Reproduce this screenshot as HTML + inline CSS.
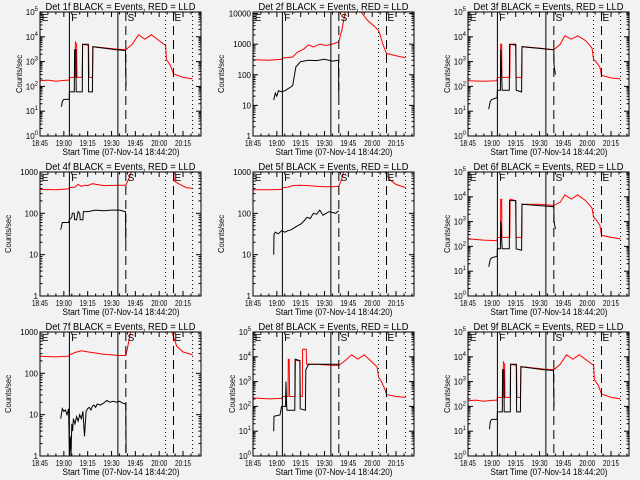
<!DOCTYPE html>
<html><head><meta charset="utf-8"><style>
html,body{margin:0;padding:0;background:#f2f2f2;}
svg{display:block;font-family:"Liberation Sans",sans-serif;}
</style></head><body>
<svg id="chart" width="640" height="480" viewBox="0 0 640 480" xmlns="http://www.w3.org/2000/svg"></svg>
<script>
// time axis: minutes after 18:45
const xTickLabels=["18:45","19:00","19:15","19:30","19:45","20:00","20:15"];
const xTickMinutes=[0,15,30,45,60,75,90];
const markerTimes=[18.5,49,54,79,84,96];
const markerStyles=["solid","solid","dash","dot","dash","dot"];
const eventLetters=["E","F","S","E"];
const eventTimes=[0.5,19,54.5,84];
const detNames=["1f","2f","3f","4f","5f","6f","7f","8f","9f"];

const p1RedT=[0,5,10,15,18.3,18.5,22,22.3,23,23.3,26.5,26.8,30.5,30.8,33,33.3,40,48,54,58,62,66,70,75,79,79.5,82,84,90,96];
const p1RedV=[170,180,160,175,180,230,230,6000,5000,230,230,5000,4500,230,230,4000,3600,3200,3000,5000,12000,8000,12000,7000,4500,1200,700,320,230,200];
const p1BlkT=[13.5,14,15,16,18.4,18.5,21.6,21.8,22.6,22.8,26.6,26.8,30.4,30.6,33,33.3,40,48,53.8,54,54.2];
const p1BlkV=[15,25,30,30,30,60,60,3000,3000,60,60,5000,5000,60,60,4000,3500,3000,2800,300,100];

const p2RedT=[0,10,18,18.5,25,28,32,35,38,42,46,50,54,56,58,68,72,76,79,80,82,84,90,96];
const p2RedV=[310,300,320,350,380,550,700,950,800,1000,900,1000,1200,3000,11200,11200,6000,4000,2800,2000,900,500,420,360];
const p2BlkT=[13,14,15,16,18,20,22,24,25,27,30,35,40,45,50,53.8,54];
const p2BlkV=[15,25,20,30,28,30,35,40,45,180,270,300,290,320,280,300,20];

const p3RedT=[0,10,18.3,18.5,20.5,20.6,21.2,21.3,26.3,26.5,30,30.2,33.8,34,45,54,58,61,65,69,74,78,79,80.5,83,84,90,96];
const p3RedV=[170,160,170,230,230,5000,5000,230,230,5000,4500,230,230,4000,3500,3000,5000,11000,8000,11000,7000,3500,1200,1000,600,280,220,200];
const p3BlkT=[13,14,15,18.3,18.5,20.4,20.6,21.5,21.7,26,26.2,30.1,30.3,33.7,34,54,54.2,55];
const p3BlkV=[12,25,30,35,70,70,3000,70,70,70,5000,5000,70,60,4000,3000,700,300];

const p4RedT=[0,10,18,18.5,22,24,26,28,30,33,40,50,54,56,57.5,58,83,84,84.5,88,92,96];
const p4RedV=[380,370,390,420,430,500,450,480,470,520,470,480,480,700,1000,5000,5000,1200,600,500,420,400];
const p4BlkT=[13,14,18,18.5,20,20.3,21.5,21.8,23,24,25,25.3,27,27.3,30,35,40,45,50,53.8,54];
const p4BlkV=[40,60,60,70,80,100,100,70,70,110,100,70,70,110,110,120,115,120,120,110,20];

const p5RedT=[0,10,18,18.5,22,25,30,35,40,45,50,54,56,57,60,82,83,86,90,96];
const p5RedV=[370,370,380,420,430,470,480,470,450,440,440,450,700,1000,5000,5000,1000,650,500,420];
const p5BlkT=[13,13.2,14,16,18,20,22,24,26,28,30,32,34,36,38,40,42,44,46,48,50,52,54];
const p5BlkV=[10,30,35,32,38,35,38,40,45,50,55,65,80,75,100,95,120,90,100,110,105,100,115];

const p6RedT=[0,10,18.3,18.5,20.5,20.6,21.2,21.3,26.3,26.5,30,30.2,33.8,34,45,54,58,61,65,69,74,78,79,80.5,83,84,90,96];
const p6RedV=[200,180,170,230,230,8000,8000,230,230,8000,7000,230,230,5000,5000,4500,6000,12000,8000,12000,7000,3500,1500,1200,700,280,230,200];
const p6BlkT=[13,14,15,18.3,18.5,20.4,20.6,21.5,21.7,26,26.2,30.1,30.3,33.7,34,54,54.2,55];
const p6BlkV=[15,30,35,40,80,80,1000,80,80,80,7000,7000,80,70,5000,4000,1000,500];

const p7RedT=[0,10,18,18.5,22,26,30,35,40,50,54,55,57,58,82,83,86,90,96];
const p7RedV=[260,250,260,280,320,350,330,310,290,270,270,400,1000,5000,5000,1000,450,330,280];
const p7BlkT=[13,14,15,16,17,18,18.5,19,19.5,20,20.5,21,22,23,24,25,26,27,28,29,30,31,32,33,34,35,36,38,40,42,44,46,48,50,52,54,54.2];
const p7BlkV=[8,14,12,13,10,14,1,3,1,6,4,8,6,9,7,10,8,12,3,12,14,15,13,16,17,15,18,17,19,22,20,21,20,21,19,18,1.2];

const p8RedT=[0,10,18,18.5,22,22.2,22.8,23,26.5,26.7,29.5,29.7,31,31.2,33.5,33.7,40,50,54,58,62,66,70,75,78,79,80.5,83,84,90,96];
const p8RedV=[220,200,210,250,250,8000,8000,250,250,7000,7000,250,250,20000,20000,5000,5000,4500,4500,7000,12000,8000,12000,6000,4000,1500,1100,500,300,250,230];
const p8BlkT=[13,13.2,17,18,18.4,18.5,20.5,20.7,21.2,21.4,26.3,26.5,29.5,29.7,33,33.2,35,54];
const p8BlkV=[10,40,45,100,100,100,100,1000,100,70,70,8000,7000,80,70,3000,5000,5000];

const p9RedT=[0,5,10,15,18.3,18.5,22,22.3,23,23.3,26.5,26.8,30.5,30.8,33,33.3,40,48,54,58,62,66,70,75,79,79.5,82,84,90,96];
const p9RedV=[170,180,160,175,180,230,230,6000,5000,230,230,5000,4500,230,230,4000,3600,3200,3000,5000,12000,8000,12000,7000,4500,1200,700,320,230,200];
const p9BlkT=[13.5,14,15,16,18.4,18.5,21.6,21.8,22.6,22.8,26.6,26.8,30.4,30.6,33,33.3,40,48,53.8,54,54.2];
const p9BlkV=[12,25,30,30,30,60,60,3000,3000,60,60,5000,5000,60,60,4000,3500,3000,2800,300,100];

const redTimes=[p1RedT,p2RedT,p3RedT,p4RedT,p5RedT,p6RedT,p7RedT,p8RedT,p9RedT];
const redValues=[p1RedV,p2RedV,p3RedV,p4RedV,p5RedV,p6RedV,p7RedV,p8RedV,p9RedV];
const blackTimes=[p1BlkT,p2BlkT,p3BlkT,p4BlkT,p5BlkT,p6BlkT,p7BlkT,p8BlkT,p9BlkT];
const blackValues=[p1BlkV,p2BlkV,p3BlkV,p4BlkV,p5BlkV,p6BlkV,p7BlkV,p8BlkV,p9BlkV];
const yMaxLog=[5,4.05,5,3,3,5,3,5,5];
const yPowerLabels=[true,false,true,false,false,true,false,true,true];

const NS="http://www.w3.org/2000/svg";
const svg=document.getElementById("chart");
const lefts=[40,253,468], tops=[12,172,332], W=161, H=124, TMAX=101.3;
function mk(tag,attrs,parent){const e=document.createElementNS(NS,tag);for(const k in attrs)e.setAttribute(k,attrs[k]);(parent||svg).appendChild(e);return e;}

for(let p=0;p<9;p++){
  const L=lefts[p%3], T=tops[Math.floor(p/3)], ymax=yMaxLog[p];
  const xs=t=>L+t/TMAX*W;
  const ys=v=>T+H-Math.log10(v)/ymax*H;
  const g=mk("g",{});
  
  
  const cp=mk("clipPath",{id:"cp"+p},g);
  mk("rect",{x:L,y:T,width:W,height:H},cp);
  const drawLine=(ts,vs,color,name)=>{
    let d="";
    for(let i=0;i<ts.length;i++)d+=(i?"L":"M")+xs(ts[i]).toFixed(1)+","+ys(vs[i]).toFixed(1);
    const pth=mk("path",{d:d,fill:"none",stroke:color,"stroke-width":1,"clip-path":"url(#cp"+p+")"},g);
    
    
  };
  drawLine(redTimes[p],redValues[p],"#ff0000","lld-red-line");
  drawLine(blackTimes[p],blackValues[p],"#000000","events-black-line");
  for(let i=0;i<markerTimes.length;i++){
    const x=xs(markerTimes[i]);
    const st=markerStyles[i];
    const ln=mk("line",{x1:x,x2:x,y1:T,y2:T+H,stroke:"#000","stroke-width":1,"stroke-dasharray":st==="dash"?"9,5":(st==="dot"?"1,3":"none")},g);
    
    
  }
  for(let i=0;i<eventLetters.length;i++){
    const tx=mk("text",{x:xs(eventTimes[i])+1,y:T+9,"font-size":10},g);
    tx.textContent=eventLetters[i];
    
    
  }
  const fr=mk("rect",{x:L,y:T,width:W,height:H,fill:"none",stroke:"#000","stroke-width":1},g);
  
  
  for(let i=0;i<xTickMinutes.length;i++){
    const x=xs(xTickMinutes[i]);
    mk("line",{x1:x,x2:x,y1:T+H,y2:T+H-5,stroke:"#000"},g);
    mk("line",{x1:x,x2:x,y1:T,y2:T+5,stroke:"#000"},g);
    const tl=mk("text",{x:x-8,y:T+H+10,"font-size":8,textLength:16,lengthAdjust:"spacingAndGlyphs"},g);
    tl.textContent=xTickLabels[i];
    
    
  }
  for(let m=5;m<TMAX;m+=5){ if(m%15===0)continue; const x=xs(m);
    mk("line",{x1:x,x2:x,y1:T+H,y2:T+H-2.5,stroke:"#000"},g);
    mk("line",{x1:x,x2:x,y1:T,y2:T+2.5,stroke:"#000"},g);}
  for(let dcd=0;dcd<=Math.floor(ymax);dcd++){
    const y=ys(Math.pow(10,dcd));
    mk("line",{x1:L,x2:L+5,y1:y,y2:y,stroke:"#000"},g);
    mk("line",{x1:L+W,x2:L+W-5,y1:y,y2:y,stroke:"#000"},g);
    const yl=mk("text",{x:L-2,y:y+3,"font-size":8,"text-anchor":"end"},g);
    if(yPowerLabels[p]){yl.textContent="10";const s=mk("tspan",{dy:-4,"font-size":6},yl);s.textContent=String(dcd);}
    else yl.textContent=String(Math.pow(10,dcd));
    
    
    for(let k=2;k<10;k++){const v=k*Math.pow(10,dcd); if(Math.log10(v)>ymax)break; const yy=ys(v);
      mk("line",{x1:L,x2:L+2.5,y1:yy,y2:yy,stroke:"#000"},g);
      mk("line",{x1:L+W,x2:L+W-2.5,y1:yy,y2:yy,stroke:"#000"},g);}
  }
  const tt=mk("text",{x:L+W/2-75,y:T-2,"font-size":10,textLength:150,lengthAdjust:"spacingAndGlyphs"},g);
  tt.textContent="Det "+detNames[p]+" BLACK = Events, RED = LLD";
  
  
  const xt=mk("text",{x:L+W/2-58,y:T+H+19,"font-size":9,textLength:117,lengthAdjust:"spacingAndGlyphs"},g);
  xt.textContent="Start Time (07-Nov-14 18:44:20)";
  
  
  const yx=L-(yPowerLabels[p]?18:29), yy0=T+H/2;
  const yt=mk("text",{x:yx-19,y:yy0,"font-size":8,textLength:38,lengthAdjust:"spacingAndGlyphs",transform:"rotate(-90 "+yx+" "+yy0+")"},g);
  yt.textContent="Counts/sec";
  
  
}
</script>
</body></html>
